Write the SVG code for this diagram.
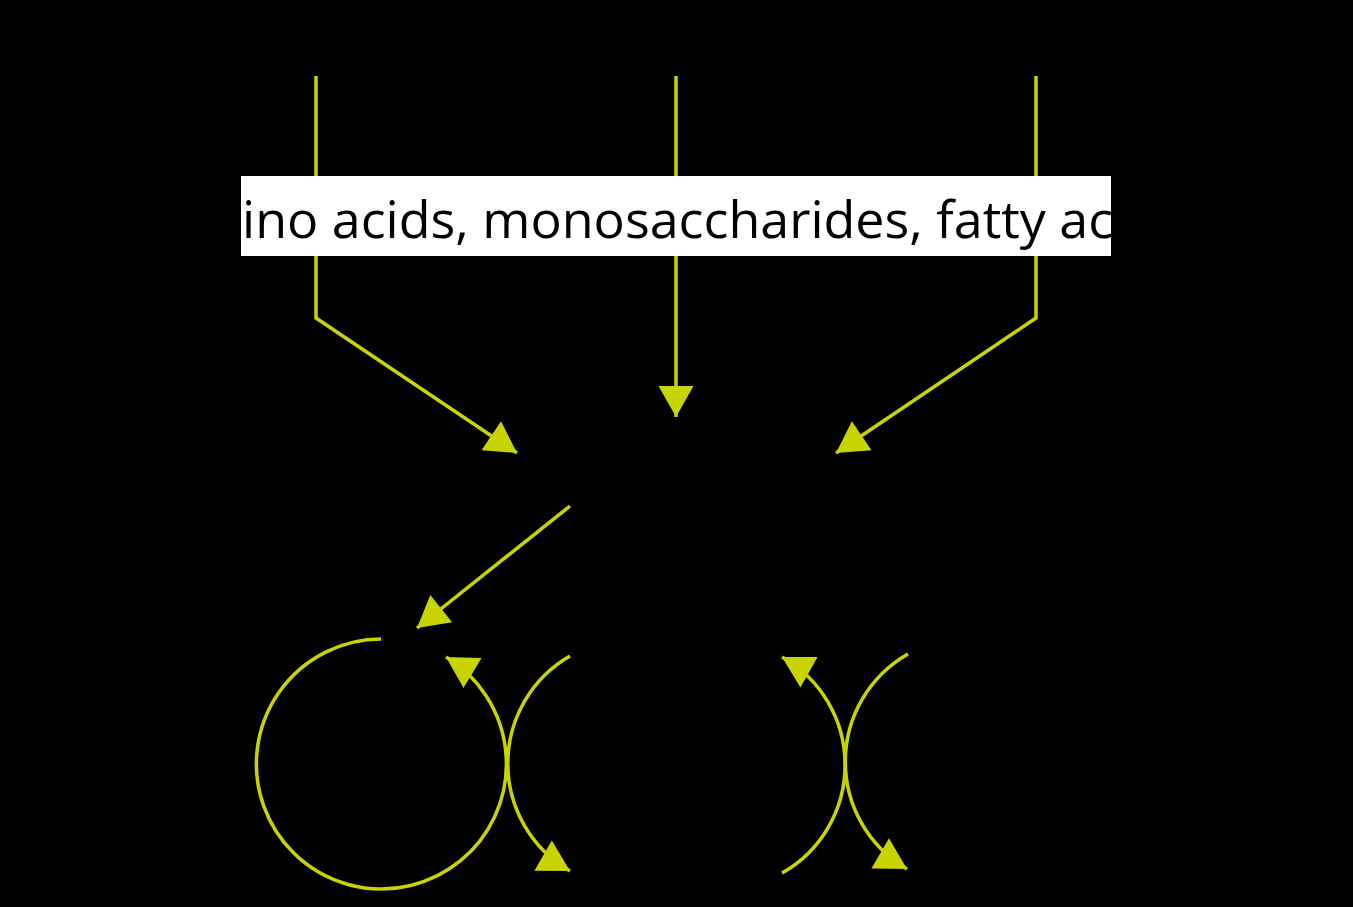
<svg xmlns="http://www.w3.org/2000/svg" width="1353" height="907" viewBox="0 0 1353 907">
  <style>
    .conn { fill: none; stroke: #c8d400; stroke-width: 3.5; }
    .lbl { font-family: "Open Sans", "Noto Sans", sans-serif; font-size: 52px; fill: #000000; }
  </style>
  <defs>
    <marker id="arrow" markerUnits="userSpaceOnUse" markerWidth="32" markerHeight="36" refX="31" refY="17.5" orient="auto" overflow="visible">
      <path d="M0,0 L31,17.5 L0,35 Z" fill="#c8d400"/>
    </marker>
    <clipPath id="boxclip">
      <rect x="241" y="176" width="870" height="80"/>
    </clipPath>
  </defs>
  <rect x="0" y="0" width="1353" height="907" fill="#000000"/>
  <g id="connectors">
    <path class="conn" d="M316,76 L316,318 L517,453" marker-end="url(#arrow)"/>
    <path class="conn" d="M676,76 L676,417" marker-end="url(#arrow)"/>
    <path class="conn" d="M1036,76 L1036,318 L836,453" marker-end="url(#arrow)"/>
    <path class="conn" d="M570,506 L417,628" marker-end="url(#arrow)"/>
    <path class="conn" d="M381,639 A125,125 0 1 0 446,657" marker-end="url(#arrow)"/>
    <path class="conn" d="M570,656 A124,124 0 0 0 570,871" marker-end="url(#arrow)"/>
    <path class="conn" d="M782,873 A124,124 0 0 0 782,657" marker-end="url(#arrow)"/>
    <path class="conn" d="M908,654 A124,124 0 0 0 907,869" marker-end="url(#arrow)"/>
  </g>
  <g id="node-nutrients">
    <rect x="241" y="176" width="870" height="80" fill="#ffffff"/>
    <g clip-path="url(#boxclip)">
      <text class="lbl" x="242" y="238">ino acids, monosaccharides, fatty ac</text>
    </g>
  </g>
</svg>
